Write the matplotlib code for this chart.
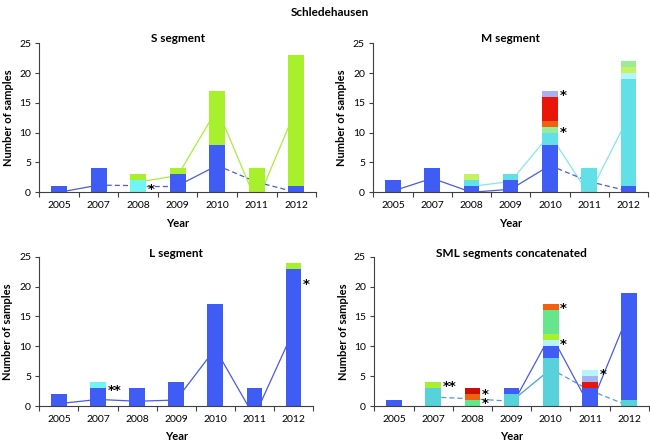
import numpy as np
import matplotlib
matplotlib.use('Agg')
import matplotlib.pyplot as plt

plt.rcParams['font.family'] = ['Lato', 'DejaVu Sans']

nan = np.nan
years = ['2005', '2007', '2008', '2009', '2010', '2011', '2012']

# ---- S segment ----
s_blue = [1, 4, 0, 3, 8, 0, 1]
s_cyan = [0, 0, 2, 0, 0, 0, 0]
s_lime = [0, 0, 1, 1, 9, 4, 22]
s_line_blue = [0, 1.2, 1.1, 1.1, 4.5, 1.7, 0]
s_line_green = [nan, nan, 1.7, 2.8, 14, -1.7, 14]

# ---- M segment ----
m_blue = [2, 4, 1, 2, 8, 0, 1]
m_cyan = [0, 0, 1, 1, 2, 4, 18]
m_palecyan = [0, 0, 0, 0, 0, 0, 1]
m_lime = [0, 0, 1, 0, 0, 0, 1]
m_mint = [0, 0, 0, 0, 1, 0, 1]
m_orange = [0, 0, 0, 0, 1, 0, 0]
m_red = [0, 0, 0, 0, 4, 0, 0]
m_lavender = [0, 0, 0, 0, 1, 0, 0]
m_line_blue = [0.2, 2.35, 0, 0.5, 4.5, 1.8, 0.2]
m_line_cyan = [nan, nan, 1.0, 1.8, 9.7, -0.4, 12.6]

# ---- L segment ----
l_blue = [2, 3, 3, 4, 17, 3, 23]
l_cyan = [0, 1, 0, 0, 0, 0, 0]
l_lime = [0, 0, 0, 0, 0, 0, 1]
l_line_blue = [0.4, 1.1, 0.8, 1.0, 9.6, -1.8, 12.6]

# ---- SML concatenated ----
sml_turq = [0, 3, 0, 2, 8, 0, 1]
sml_blue = [1, 0, 0, 1, 2, 3, 18]
sml_red = [0, 0, 0, 0, 0, 1, 0]
sml_lavender = [0, 0, 0, 0, 0, 1, 0]
sml_palecyan = [0, 0, 0, 0, 1, 1, 0]
sml_lime = [0, 1, 0, 0, 1, 0, 0]
sml_mint = [0, 0, 1, 0, 4, 0, 0]
sml_orange = [0, 0, 1, 0, 1, 0, 0]
sml_darkred = [0, 0, 1, 0, 0, 0, 0]
sml_line_blue = [nan, nan, nan, 0, 12, -0.2, 15.8]
sml_line_teal = [nan, 1.5, 1.2, 0.8, 6.2, 2.6, 0]

# asterisk annotations: (category index, y value, text)
s_stars = [(2, 0.4, '*')]
m_stars = [(4, 16.3, '*'), (4, 10.1, '*')]
l_stars = [(1, 2.6, '**'), (6, 20.4, '*')]
sml_stars = [(1, 3.2, '**'), (2, 1.85, '*'), (2, 0.35, '*'), (4, 16.4, '*'),
             (4, 10.3, '*'), (5, 5.2, '*')]

BLUE = '#3f5cf5'
CYAN = '#62e0e8'
SCYAN = '#70f4f4'
TURQ = '#58d2da'
LIME = '#a8f02c'
MINT = '#66e68a'
ORANGE = '#f0600f'
RED = '#e81508'
DARKRED = '#c81000'
LAV = '#a4b2f4'
PALECYAN = '#b4f6f8'
PALEGREEN = '#98ec98'
LINE_BLUE = '#4a5ae6'
LINE_GREEN = '#a8ee3a'
LINE_CYAN = '#80e8f0'
LINE_TEAL = '#4a9fd0'

DASH = (0, (4, 2.5))
SOL = '-'

fig = plt.figure(figsize=(6.5, 4.43), dpi=100)
fig.text(0.507, 0.972, 'Schledehausen', ha='center', va='center',
         fontsize=8.5, fontweight='bold')


def panel(rect, title, stacks, lines, stars, title_y, ylab_x):
    ax = fig.add_axes(rect)
    x = np.arange(len(years))
    bottom = np.zeros(len(years))
    for vals, col in stacks:
        v = np.array(vals, dtype=float)
        ax.bar(x, v, 0.4, bottom=bottom, color=col, linewidth=0, zorder=2)
        bottom += v
    for vals, col, styles in lines:
        v = np.array(vals, dtype=float)
        for i in range(len(v) - 1):
            if np.isnan(v[i]) or np.isnan(v[i + 1]):
                continue
            ax.plot(x[i:i + 2], v[i:i + 2], color=col, ls=styles[i], lw=0.9,
                    zorder=1)
    for i, yv, s in stars:
        ax.text(x[i] + 0.24, yv, s, ha='left', va='center', fontsize=9.5,
                fontweight='bold', family='DejaVu Sans', zorder=3)
    ax.set_xlim(-0.5, len(years) - 0.5)
    ax.set_ylim(0, 25)
    ax.set_yticks(np.arange(0, 26, 5))
    ax.set_xticks(x)
    ax.set_xticklabels(years)
    ax.set_xticks(np.arange(-0.5, len(years), 1), minor=True)
    ax.tick_params(axis='x', which='major', length=0, pad=6.5, labelsize=7.5)
    ax.tick_params(axis='x', which='minor', length=3.5, width=0.8,
                   color='#404040', direction='out')
    ax.tick_params(axis='y', length=3, width=0.8, color='#404040', pad=3,
                   labelsize=7.5)
    for sp in ['top', 'right']:
        ax.spines[sp].set_visible(False)
    for sp in ['left', 'bottom']:
        ax.spines[sp].set_color('#404040')
        ax.spines[sp].set_linewidth(0.8)
    ax.set_ylabel('Number of samples', fontsize=8, fontweight='bold')
    ax.set_xlabel('Year', fontsize=8, fontweight='bold')
    ax.yaxis.set_label_coords(ylab_x, 0.5)
    ax.xaxis.set_label_coords(0.5, -0.17)
    ax.text(0.5, title_y, title, transform=ax.transAxes, ha='center',
            va='center', fontsize=8.5, fontweight='bold')
    return ax


panel([0.0605, 0.566, 0.4257, 0.3363], 'S segment',
      [(s_blue, BLUE), (s_cyan, SCYAN), (s_lime, LIME)],
      [(s_line_green, LINE_GREEN, [SOL] * 6),
       (s_line_blue, LINE_BLUE, [SOL, DASH, DASH, SOL, DASH, DASH])],
      s_stars, 1.03, -0.09)

panel([0.5743, 0.566, 0.4226, 0.3363], 'M segment',
      [(m_blue, BLUE), (m_cyan, CYAN), (m_palecyan, PALECYAN),
       (m_lime, '#c4f260'), (m_mint, PALEGREEN), (m_orange, ORANGE),
       (m_red, RED), (m_lavender, LAV)],
      [(m_line_cyan, LINE_CYAN, [SOL] * 6),
       (m_line_blue, LINE_BLUE, [SOL, SOL, SOL, SOL, DASH, DASH])],
      m_stars, 1.03, -0.095)

panel([0.0605, 0.0835, 0.421, 0.337], 'L segment',
      [(l_blue, BLUE), (l_cyan, SCYAN), (l_lime, LIME)],
      [(l_line_blue, LINE_BLUE, [SOL] * 6)],
      l_stars, 1.023, -0.096)

panel([0.5758, 0.0835, 0.4226, 0.337], 'SML segments concatenated',
      [(sml_turq, TURQ), (sml_blue, BLUE), (sml_red, RED),
       (sml_lavender, LAV), (sml_palecyan, PALECYAN), (sml_lime, LIME),
       (sml_mint, MINT), (sml_orange, ORANGE), (sml_darkred, DARKRED)],
      [(sml_line_teal, LINE_TEAL, [SOL, DASH, DASH, SOL, DASH, DASH]),
       (sml_line_blue, LINE_BLUE, [SOL] * 6)],
      sml_stars, 1.023, -0.092)

fig.savefig('out.png', dpi=100)
